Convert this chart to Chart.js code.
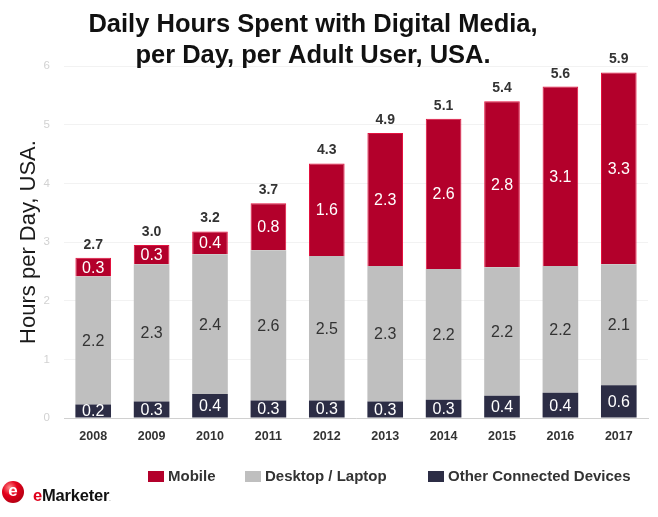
<!DOCTYPE html>
<html>
<head>
<meta charset="utf-8">
<script src="https://cdn.jsdelivr.net/npm/chart.js@4.4.0/dist/chart.umd.min.js"></script>
<style>
  html, body { margin: 0; padding: 0; background: #fff; }
  #wrap { position: relative; width: 658px; height: 517px; }
  .ball {
    position: absolute; left: 2px; top: 481px; width: 22px; height: 22px; border-radius: 50%;
    background: radial-gradient(circle at 35% 30%, #ff8a8a 0%, #e4001b 35%, #b10012 80%, #8a000c 100%);
    color: #fff; font: bold 17px "Liberation Sans", Arial, sans-serif; text-align: center; line-height: 20px;
  }
  .brand {
    position: absolute; left: 33px; top: 486px; line-height: 1;
    font: bold 16.5px "Liberation Sans", Arial, sans-serif; color: #111; letter-spacing: -0.2px;
  }
  .brand span { color: #e0001b; }
  .brand small { font-size: 5px; color: #888; }
</style>
</head>
<body>
<div id="wrap">
  <canvas id="chart" width="658" height="517"></canvas>
  <div class="ball">e</div>
  <div class="brand"><span>e</span>Marketer<small>.</small></div>
</div>
<script>
const FONT = '"Liberation Sans", Arial, sans-serif';

// valores (horas por dia)
const anos = ["2008", "2009", "2010", "2011", "2012", "2013", "2014", "2015", "2016", "2017"];
const outros = [0.23, 0.28, 0.41, 0.30, 0.30, 0.28, 0.31, 0.38, 0.43, 0.56];
const desktop = [2.18, 2.34, 2.38, 2.56, 2.46, 2.31, 2.23, 2.19, 2.16, 2.06];
const mobile = [0.32, 0.33, 0.39, 0.80, 1.58, 2.27, 2.56, 2.83, 3.06, 3.27];
const totais = [2.7, 3.0, 3.2, 3.7, 4.3, 4.9, 5.1, 5.4, 5.6, 5.9];

const titulo = ["Daily Hours Spent with Digital Media,", "per Day, per Adult User, USA."];

// titulo em duas linhas
const tituloPlugin = {
  id: "titulo",
  afterDraw(chart) {
    const ctx = chart.ctx;
    ctx.save();
    ctx.fillStyle = "#111";
    ctx.font = "bold 25.5px " + FONT;
    ctx.textAlign = "center";
    ctx.textBaseline = "alphabetic";
    ctx.fillText(titulo[0], 313, 32);
    ctx.fillText(titulo[1], 313, 63);
    ctx.restore();
  }
};

// rotulos dentro das barras e total em cima
const rotulosPlugin = {
  id: "rotulos",
  afterDatasetsDraw(chart) {
    const ctx = chart.ctx;
    const area = chart.chartArea;
    ctx.save();
    ctx.beginPath();
    ctx.rect(area.left, area.top - 40, area.right - area.left, area.bottom - area.top + 40);
    ctx.clip();
    ctx.textAlign = "center";
    ctx.textBaseline = "middle";
    ctx.font = "16px " + FONT;

    chart.data.datasets.forEach((ds, i) => {
      const meta = chart.getDatasetMeta(i);
      meta.data.forEach((bar, j) => {
        ctx.fillStyle = ds.corTexto;
        ctx.fillText(ds.data[j].toFixed(1), bar.x, (bar.y + bar.base) / 2 + 1);
      });
    });

    const topo = chart.getDatasetMeta(chart.data.datasets.length - 1);
    ctx.font = "bold 14px " + FONT;
    ctx.fillStyle = "#333";
    ctx.textBaseline = "alphabetic";
    topo.data.forEach((bar, j) => {
      ctx.fillText(totais[j].toFixed(1), bar.x, bar.y - 9);
    });
    ctx.restore();
  }
};

// legenda embaixo
const legendaPlugin = {
  id: "legenda",
  afterDraw(chart) {
    const ctx = chart.ctx;
    const posX = [148, 245, 428];
    const ordem = [2, 1, 0];
    ctx.save();
    ctx.font = "bold 15px " + FONT;
    ctx.textBaseline = "middle";
    ctx.textAlign = "left";
    ordem.forEach((idx, k) => {
      const ds = chart.data.datasets[idx];
      ctx.fillStyle = ds.backgroundColor;
      ctx.fillRect(posX[k], 471, 16, 11);
      ctx.fillStyle = "#333";
      ctx.fillText(ds.label, posX[k] + 20, 477);
    });
    ctx.restore();
  }
};

new Chart(document.getElementById("chart"), {
  type: "bar",
  data: {
    labels: anos,
    datasets: [
      { label: "Other Connected Devices", data: outros, backgroundColor: "#2c2d45", corTexto: "#fff" },
      { label: "Desktop / Laptop", data: desktop, backgroundColor: "#bfbfbf", corTexto: "#333" },
      { label: "Mobile", data: mobile, backgroundColor: "#b3002b", borderColor: "#e3123f", borderWidth: 1, corTexto: "#fff" }
    ]
  },
  options: {
    responsive: false,
    animation: false,
    devicePixelRatio: 1,
    layout: { padding: { top: 66, right: 10, bottom: 59, left: 0 } },
    datasets: { bar: { categoryPercentage: 1, barPercentage: 0.61 } },
    plugins: {
      legend: { display: false },
      title: { display: false },
      tooltip: { enabled: false }
    },
    scales: {
      x: {
        stacked: true,
        grid: { display: false, drawTicks: false },
        border: { color: "#d0d0d0" },
        ticks: { color: "#333", padding: 11, font: { family: '"Liberation Sans Narrow", ' + FONT, size: 12.5, weight: "bold" } },
        afterFit: s => { s.height = 40; }
      },
      y: {
        stacked: true,
        min: 0,
        max: 6,
        grid: { color: "#f2f2f2", drawTicks: false },
        border: { display: false },
        ticks: { stepSize: 1, color: "#d2d2d2", padding: 14, font: { family: FONT, size: 11.5 } },
        title: { display: true, text: "Hours per Day, USA.", color: "#1a1a1a", font: { family: FONT, size: 22 }, padding: { top: 16, bottom: 0 } },
        afterFit: s => { s.width = 64; }
      }
    }
  },
  plugins: [tituloPlugin, rotulosPlugin, legendaPlugin]
});
</script>
</body>
</html>
